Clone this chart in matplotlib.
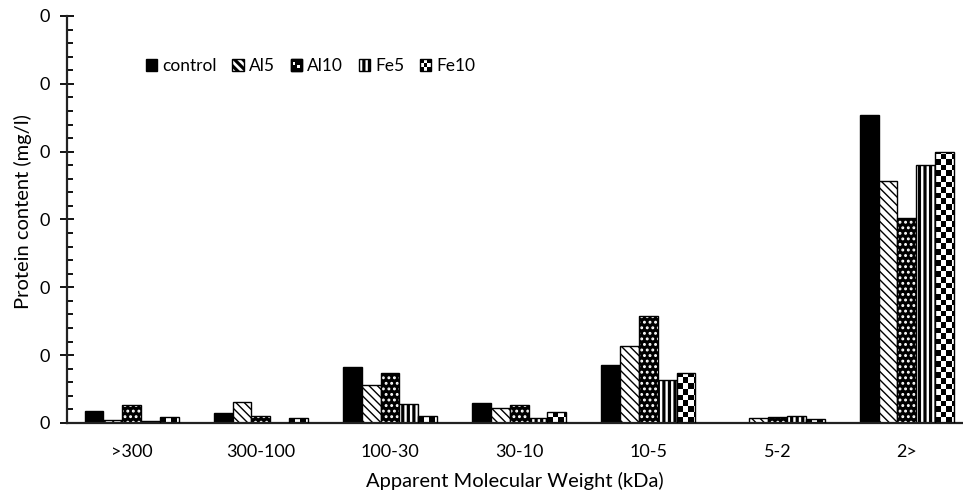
import numpy as np
import matplotlib
matplotlib.use("Agg")
import matplotlib.pyplot as plt
from matplotlib.patches import Rectangle
from matplotlib.ticker import MultipleLocator, FormatStrFormatter

plt.rcParams['font.family'] = ['Lato', 'DejaVu Sans']

categories = ['>300', '300-100', '100-30', '30-10', '10-5', '5-2', '2>']
series = ['control', 'Al5', 'Al10', 'Fe5', 'Fe10']

control = [0.0090, 0.0070, 0.0410, 0.0145, 0.0430, 0.0000, 0.2270]
al5 = [0.0020, 0.0155, 0.0280, 0.0110, 0.0565, 0.0035, 0.1785]
al10 = [0.0130, 0.0050, 0.0370, 0.0135, 0.0790, 0.0045, 0.1510]
fe5 = [0.0015, 0.0000, 0.0140, 0.0035, 0.0315, 0.0055, 0.1905]
fe10 = [0.0045, 0.0035, 0.0050, 0.0080, 0.0370, 0.0030, 0.2000]


class CheckerHandler:
    def legend_artist(self, legend, orig_handle, fontsize, handlebox):
        x0, y0 = -handlebox.xdescent, -handlebox.ydescent
        w, h = handlebox.width, handlebox.height
        tr = handlebox.get_transform()
        for i in range(3):
            for j in range(3):
                c = 'black' if (i + j) % 2 == 0 else 'white'
                handlebox.add_artist(Rectangle((x0 + i * w / 3, y0 + j * h / 3), w / 3, h / 3,
                                               facecolor=c, edgecolor='none', transform=tr))
        outline = Rectangle((x0, y0), w, h, fill=False, edgecolor='black', lw=1, transform=tr)
        handlebox.add_artist(outline)
        return outline


class DotsHandler:
    def legend_artist(self, legend, orig_handle, fontsize, handlebox):
        x0, y0 = -handlebox.xdescent, -handlebox.ydescent
        w, h = handlebox.width, handlebox.height
        tr = handlebox.get_transform()
        handlebox.add_artist(Rectangle((x0, y0), w, h, facecolor='black', edgecolor='black',
                                       lw=1, transform=tr))
        for dx, dy in [(0.3, 0.65), (0.7, 0.35)]:
            handlebox.add_artist(Rectangle((x0 + dx * w - 1, y0 + dy * h - 1), 2, 2,
                                           facecolor='white', edgecolor='none', transform=tr))
        outline = Rectangle((x0, y0), w, h, fill=False, edgecolor='black', lw=1, transform=tr)
        handlebox.add_artist(outline)
        return outline


fig = plt.figure(figsize=(9.63, 4.93), dpi=100)
ax = fig.add_axes([0.0696, 0.142, 0.9304, 0.8256])

x = np.arange(len(categories))
bw = 0.1455
xmin, xmax = -0.5, 6.435
ymax = 0.3
ax.set_xlim(xmin, xmax)
ax.set_ylim(0, ymax)

b_ctrl = ax.bar(x - 2 * bw, control, bw, color='black', edgecolor='black', lw=1)
plt.rcParams['hatch.linewidth'] = 1.0
b_al5 = ax.bar(x - bw, al5, bw, color='white', edgecolor='black', hatch='\\\\\\\\', lw=1)
plt.rcParams['hatch.linewidth'] = 1.3
b_al10 = ax.bar(x, al10, bw, color='black', edgecolor='white', hatch='...', lw=0)
ax.bar(x, al10, bw, fill=False, edgecolor='black', lw=1)
plt.rcParams['hatch.linewidth'] = 2.3
b_fe5 = ax.bar(x + bw, fe5, bw, color='white', edgecolor='black', hatch='|||', lw=1)
b_fe10 = ax.bar(x + 2 * bw, fe10, bw, color='white', edgecolor='black', lw=1)
for r in b_fe10:
    r.set_facecolor('none')
    r.set_zorder(3)

# checkerboard fill for Fe10, clipped to each bar
px_x = 896 / (xmax - xmin)
px_y = 407 / ymax
cell = 5.6
for r, v in zip(b_fe10, fe10):
    if v <= 0:
        continue
    ncol = int(np.ceil(bw * px_x / cell))
    nrow = max(1, int(np.ceil(v * px_y / cell)))
    ii, jj = np.indices((nrow, ncol))
    board = ((ii + jj) % 2).astype(float)
    x0 = r.get_x()
    im = ax.imshow(board, cmap='gray', vmin=0, vmax=1, interpolation='nearest', aspect='auto',
                   origin='lower', extent=(x0, x0 + ncol * cell / px_x, 0, nrow * cell / px_y), zorder=2)
    clip = Rectangle((x0, 0), bw, v, transform=ax.transData)
    im.set_clip_path(clip)
ax.set_xlim(xmin, xmax)
ax.set_ylim(0, ymax)

ax.spines['top'].set_visible(False)
ax.spines['right'].set_visible(False)
for s in ['left', 'bottom']:
    ax.spines[s].set_linewidth(1.6)
    ax.spines[s].set_color('#222222')

ax.yaxis.set_major_locator(MultipleLocator(0.05))
ax.yaxis.set_minor_locator(MultipleLocator(0.01))
ax.yaxis.set_major_formatter(FormatStrFormatter('%.0f'))
ax.tick_params(axis='y', which='major', direction='inout', length=10, width=1.3, labelsize=13, pad=7)
ax.tick_params(axis='y', which='minor', direction='in', length=4, width=1.3)
ax.set_xticks(x)
ax.set_xticklabels(categories)
ax.tick_params(axis='x', length=0, labelsize=13, pad=15)

ax.set_ylabel('Protein content (mg/l)', fontsize=14.5)
ax.yaxis.set_label_coords(-0.039, 0.52)
ax.set_xlabel('Apparent Molecular Weight (kDa)', fontsize=14.5, labelpad=9)

ax.legend([b_ctrl, b_al5, b_al10, b_fe5, b_fe10], series, ncol=5, frameon=False,
          loc='center left', bbox_to_anchor=(0.088, 0.877), borderaxespad=0, borderpad=0,
          handlelength=0.65, handleheight=0.65, handletextpad=0.3, columnspacing=0.9,
          fontsize=12.5, handler_map={b_fe10: CheckerHandler(), b_al10: DotsHandler()})

fig.savefig('out.png', dpi=100)
